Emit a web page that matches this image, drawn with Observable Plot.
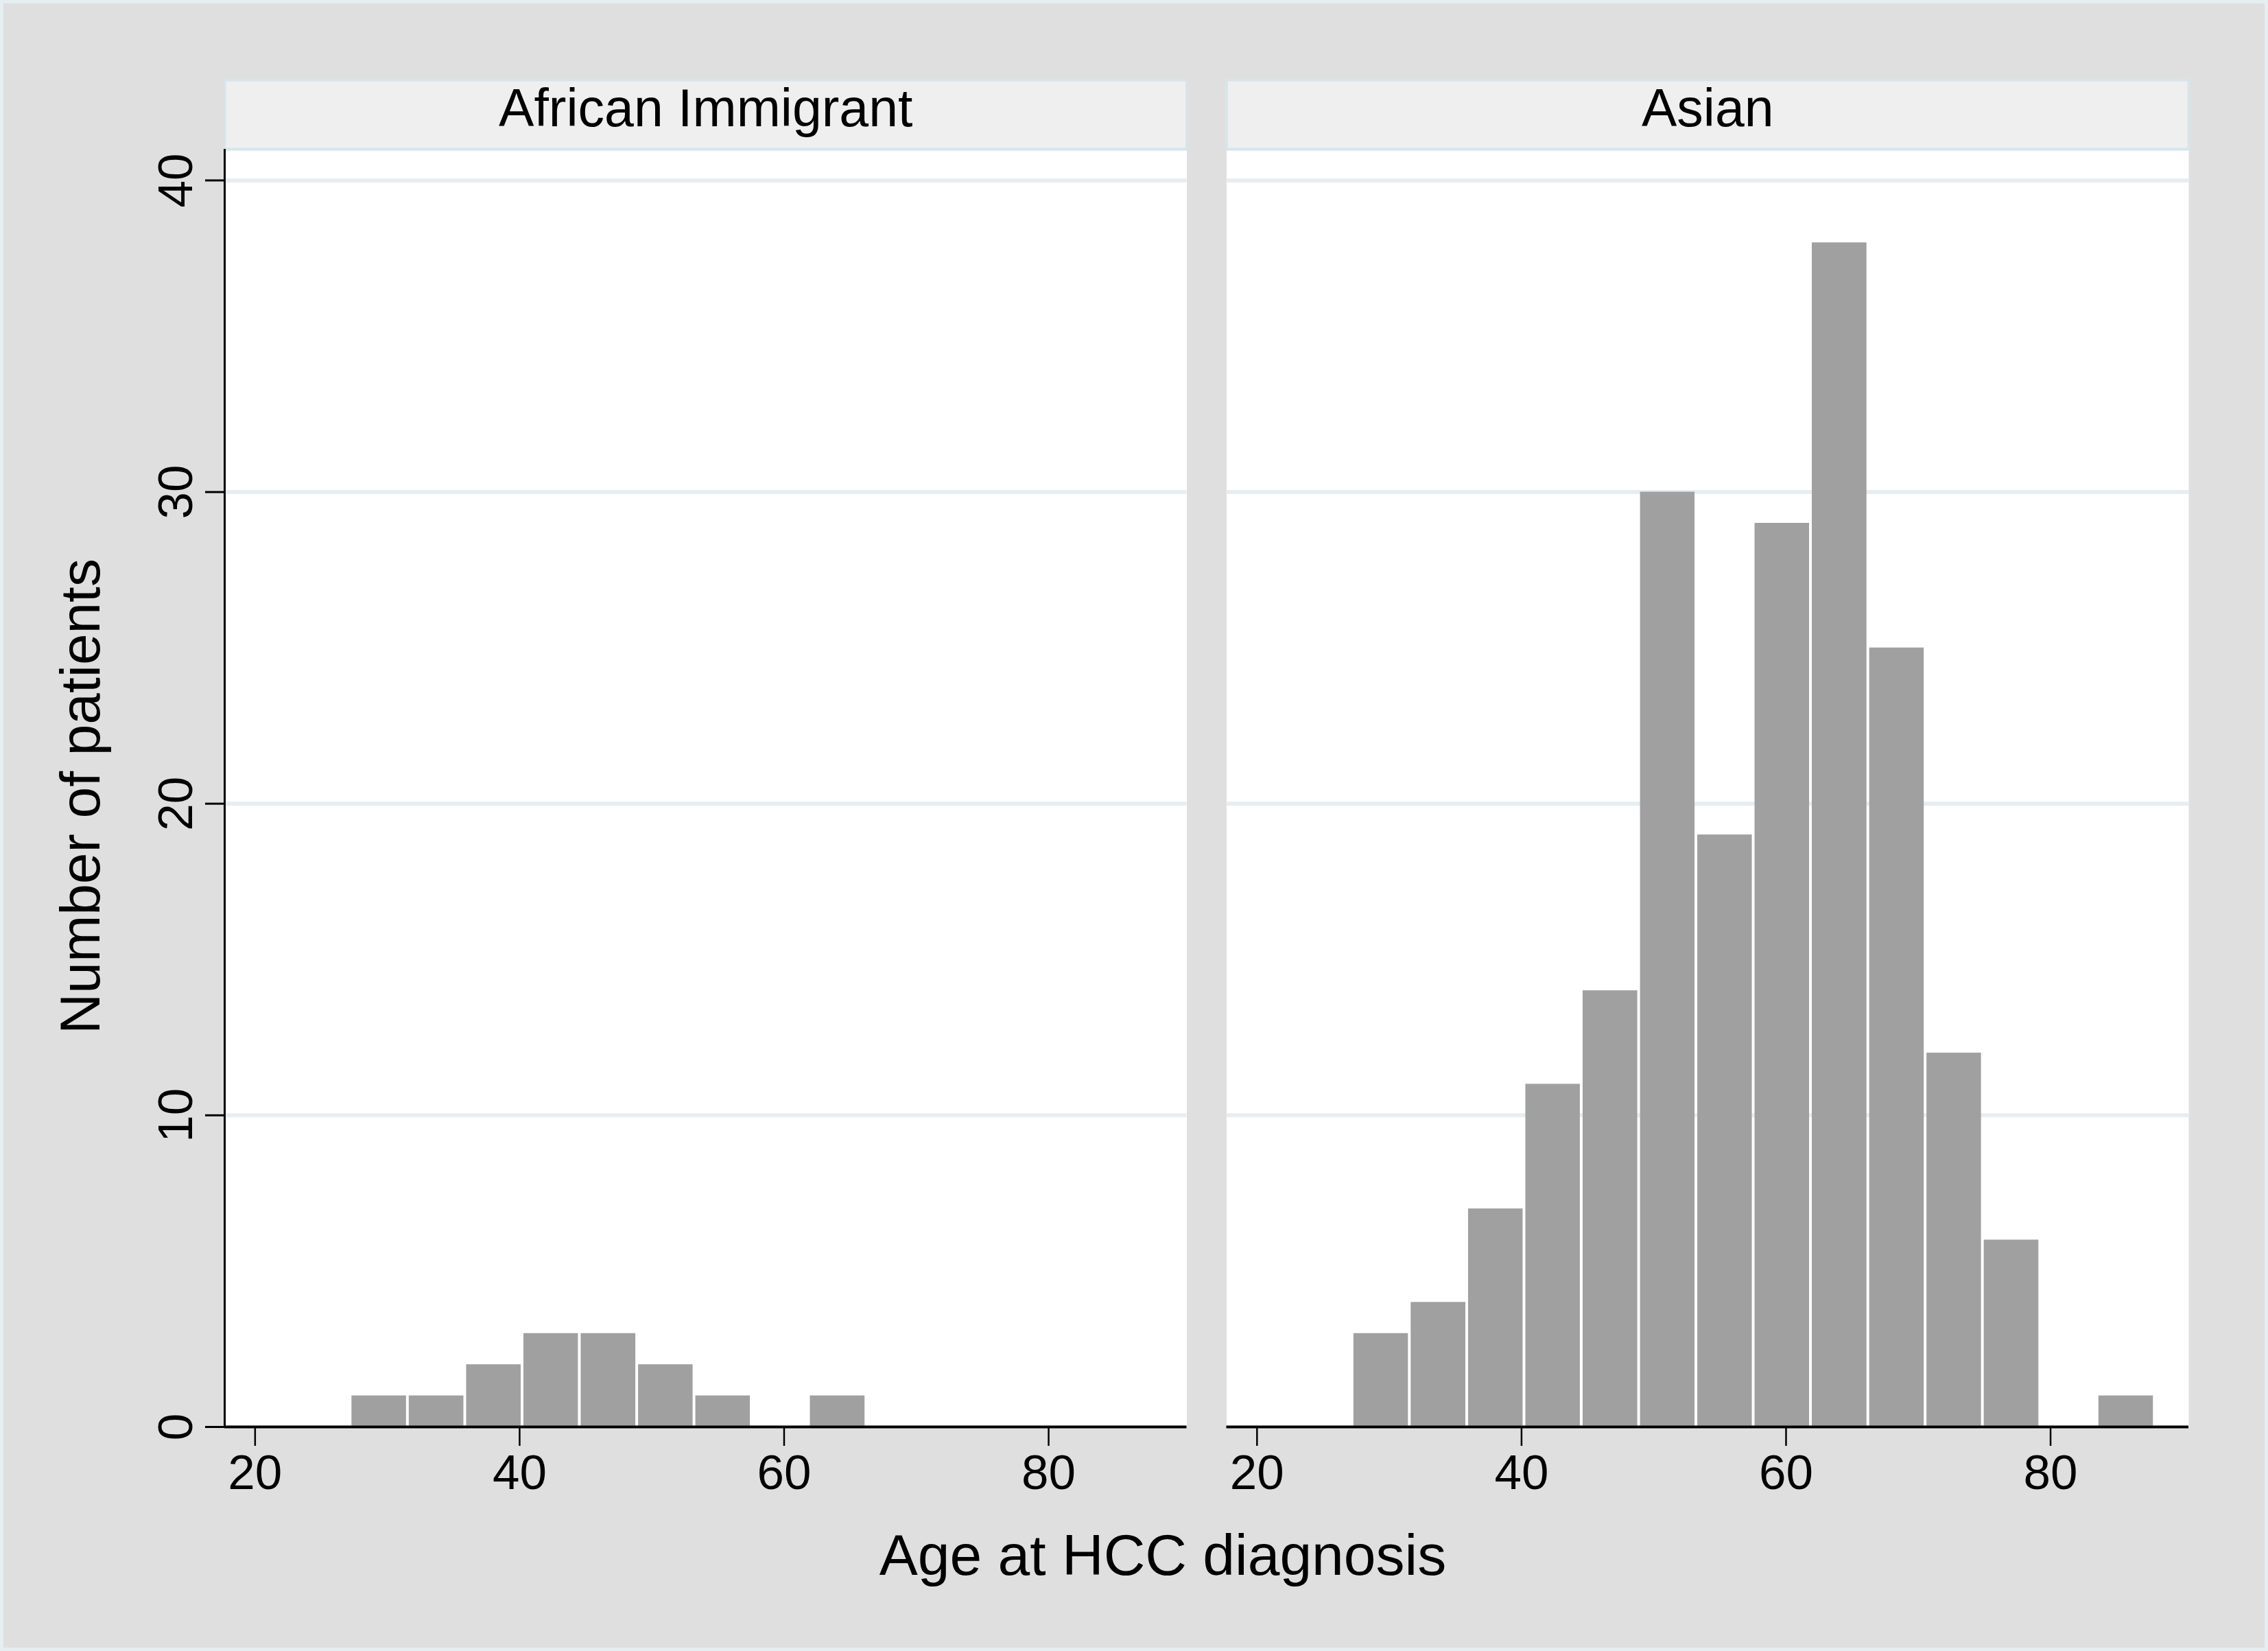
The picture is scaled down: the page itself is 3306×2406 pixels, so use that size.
<!DOCTYPE html>
<html><head><meta charset="utf-8">
<script src="https://cdn.jsdelivr.net/npm/d3@7"></script>
<script src="https://cdn.jsdelivr.net/npm/@observablehq/plot@0.6"></script>
<style>
html,body{margin:0;padding:0;background:#dfdfdf;}
#chart svg{display:block; outline:5px solid #e6eef2; outline-offset:-5px;}
</style></head><body><div id="chart"></div>
<script>
const groups = ["African Immigrant", "Asian"];
const binEdges = [27.21, 31.54, 35.88, 40.21, 44.54, 48.88, 53.21, 57.54, 61.87, 66.21, 70.54, 74.87, 79.21, 83.54, 87.87];
const africanCounts = [1, 1, 2, 3, 3, 2, 1, 0, 1, 0, 0, 0, 0, 0];
const asianCounts = [3, 4, 7, 11, 14, 30, 19, 29, 38, 25, 12, 6, 0, 1];
const xTicks = [20, 40, 60, 80];
const yTicks = [0, 10, 20, 30, 40];
const xLabel = "Age at HCC diagnosis";
const yLabel = "Number of patients";
const xDomain = [17.7, 90.45];
const yDomain = [0, 41];

const bins = [];
[africanCounts, asianCounts].forEach((counts, g) => counts.forEach((c, i) => {
  if (c > 0) bins.push({group: groups[g], x1: binEdges[i], x2: binEdges[i + 1], count: c});
}));

const chart = Plot.plot({
  width: 3306, height: 2406,
  marginLeft: 327, marginRight: 116, marginTop: 217, marginBottom: 327,
  style: {background: "#dfdfdf", fontFamily: "'Liberation Sans', Arial, sans-serif", color: "black"},
  fx: {domain: groups, paddingInner: 0.0397, paddingOuter: 0, round: false, axis: null, label: null},
  x: {domain: xDomain},
  y: {domain: yDomain},
  marks: [
    Plot.frame({fill: "white"}),
    Plot.frame({fill: "#efefef", stroke: "#d8e4eb", strokeWidth: 4, insetTop: -101, insetBottom: 1862}),
    Plot.gridY(yTicks, {stroke: "#e7eef1", strokeWidth: 6, strokeOpacity: 1}),
    Plot.rectY(bins, {fx: "group", x1: "x1", x2: "x2", y: "count", fill: "#a0a0a0", insetLeft: 2, insetRight: 2}),
    Plot.ruleY([0], {stroke: "black", strokeWidth: 4}),
    Plot.ruleX(groups.slice(0, 1), {fx: d => d, x: () => xDomain[0], stroke: "black", strokeWidth: 3}),
    Plot.axisX(xTicks, {tickSize: 28, tickPadding: 12, fontSize: 71, strokeWidth: 2.5, label: null}),
    Plot.axisY(yTicks, {tickSize: 28, tickPadding: 20, tickRotate: -90, fontSize: 71, strokeWidth: 3, label: null}),
    Plot.text(groups, {fx: d => d, text: d => d, frameAnchor: "top", lineAnchor: "middle", textAnchor: "middle", dy: -58, fontSize: 77}),
    Plot.text([yLabel], {fx: () => groups[0], text: d => d, frameAnchor: "left", lineAnchor: "middle", textAnchor: "middle", rotate: -90, dx: -209, dy: 12, fontSize: 82}),
    Plot.text([xLabel], {fx: () => groups[0], text: d => d, frameAnchor: "bottom-right", lineAnchor: "middle", textAnchor: "middle", dx: -35, dy: 189, fontSize: 84})
  ]
});
document.getElementById("chart").appendChild(chart);
</script></body></html>
